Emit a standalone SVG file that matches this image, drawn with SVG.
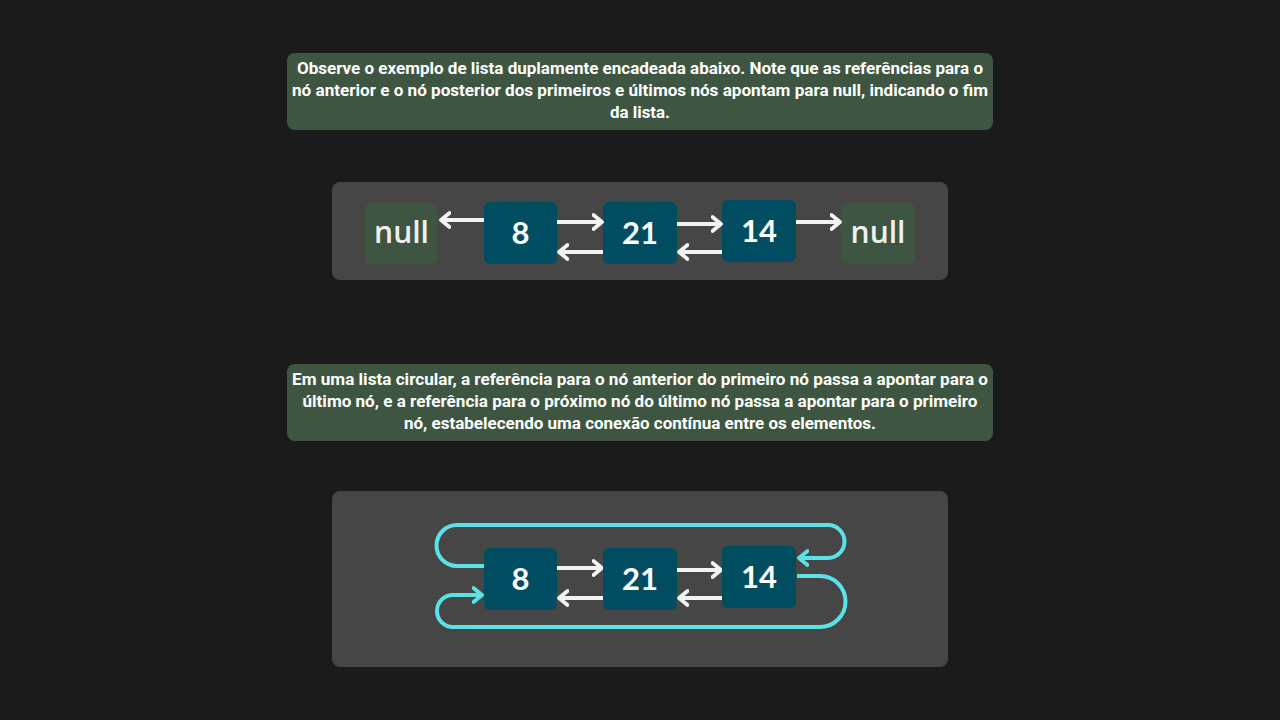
<svg xmlns="http://www.w3.org/2000/svg" width="1280" height="720" viewBox="0 0 1280 720">
<defs>
<style>
.note{fill:#3e5641}
.panel{fill:#464646}
.node{fill:#004d62}
.nul{fill:#3e5641}
.para{font-family:Roboto,"Liberation Sans",sans-serif;font-weight:700;font-size:16px;fill:#ffffff;text-anchor:middle}
.num{font-family:Lato,"Liberation Sans",sans-serif;font-weight:700;font-size:31px;fill:#ffffff;text-anchor:middle}
.nulltxt{font-family:"Open Sans","Liberation Sans",sans-serif;font-weight:600;font-size:30px;fill:#f0f0f0;text-anchor:middle}
.w{stroke:#f2f2f2;stroke-width:4;fill:none;marker-end:url(#aw)}
.c{stroke:#5ce1e6;stroke-width:4;fill:none}
</style>
<marker id="aw" markerUnits="userSpaceOnUse" markerWidth="20" markerHeight="20" refX="10" refY="10" orient="auto" viewBox="0 0 20 20">
<path d="M1.5,3 L10,10 L1.5,17" fill="none" stroke="#f2f2f2" stroke-width="3.8" stroke-linecap="round" stroke-linejoin="round"/>
</marker>
<marker id="ac" markerUnits="userSpaceOnUse" markerWidth="20" markerHeight="20" refX="10" refY="10" orient="auto" viewBox="0 0 20 20">
<path d="M1.5,3 L10,10 L1.5,17" fill="none" stroke="#5ce1e6" stroke-width="3.8" stroke-linecap="round" stroke-linejoin="round"/>
</marker>
</defs>
<rect width="1280" height="720" fill="#1b1b1b"/>

<g id="note1">
<rect class="note" x="287" y="53" width="706" height="77" rx="8"/>
<text class="para" x="640" y="74" textLength="686" lengthAdjust="spacingAndGlyphs">Observe o exemplo de lista duplamente encadeada abaixo. Note que as referências para o</text>
<text class="para" x="640" y="96" textLength="696" lengthAdjust="spacingAndGlyphs">nó anterior e o nó posterior dos primeiros e últimos nós apontam para null, indicando o fim</text>
<text class="para" x="640" y="118" textLength="60" lengthAdjust="spacingAndGlyphs">da lista.</text>
</g>
<g id="panel1"><rect class="panel" x="332" y="182" width="616" height="98" rx="8"/></g>

<g id="null-left"><rect class="nul" x="365" y="203" width="73" height="61" rx="6"/><text class="nulltxt" x="401.5" y="243">null</text></g>
<g id="n1-8"><rect class="node" x="484" y="202" width="73" height="62" rx="6"/><text class="num" x="520.5" y="244">8</text></g>
<g id="n1-21"><rect class="node" x="603" y="202" width="74" height="62" rx="6"/><text class="num" x="640" y="244">21</text></g>
<g id="n1-14"><rect class="node" x="722" y="200" width="74" height="62" rx="6"/><text class="num" x="759" y="242">14</text></g>
<g id="null-right"><rect class="nul" x="841" y="203" width="74" height="61" rx="6"/><text class="nulltxt" x="878" y="243">null</text></g>

<g id="note2">
<rect class="note" x="287" y="364" width="706" height="77" rx="8"/>
<text class="para" x="640" y="385" textLength="696" lengthAdjust="spacingAndGlyphs">Em uma lista circular, a referência para o nó anterior do primeiro nó passa a apontar para o</text>
<text class="para" x="640" y="407" textLength="675" lengthAdjust="spacingAndGlyphs">último nó, e a referência para o próximo nó do último nó passa a apontar para o primeiro</text>
<text class="para" x="640" y="429" textLength="472" lengthAdjust="spacingAndGlyphs">nó, estabelecendo uma conexão contínua entre os elementos.</text>
</g>
<g id="panel2"><rect class="panel" x="332" y="491" width="616" height="176" rx="8"/></g>

<g id="connectors">
<line class="w" x1="484" y1="220" x2="441" y2="220"/>
<line class="w" x1="557" y1="222" x2="602" y2="222"/>
<line class="w" x1="677" y1="224" x2="721" y2="224"/>
<line class="w" x1="796" y1="222" x2="840" y2="222"/>
<line class="w" x1="603" y1="252" x2="559" y2="252"/>
<line class="w" x1="722" y1="252" x2="679" y2="252"/>

<line class="w" x1="557" y1="568" x2="602" y2="568"/>
<line class="w" x1="677" y1="570" x2="721" y2="570"/>
<line class="w" x1="603" y1="598" x2="559" y2="598"/>
<line class="w" x1="722" y1="598" x2="679" y2="598"/>

<path class="c" marker-end="url(#ac)" d="M484,566 H457 A20.5,20.5 0 0 1 457,525 H828 A16.5,16.5 0 0 1 828,558 H799"/>
<path class="c" marker-end="url(#ac)" d="M797,576 H820 A25.5,25.5 0 0 1 820,627 H453 A16,16 0 0 1 453,595 H482"/>
</g>

<g id="n2-8"><rect class="node" x="484" y="548" width="73" height="62" rx="6"/><text class="num" x="520.5" y="590">8</text></g>
<g id="n2-21"><rect class="node" x="603" y="548" width="74" height="62" rx="6"/><text class="num" x="640" y="590">21</text></g>
<g id="n2-14"><rect class="node" x="722" y="546" width="74" height="62" rx="6"/><text class="num" x="759" y="588">14</text></g>
</svg>
